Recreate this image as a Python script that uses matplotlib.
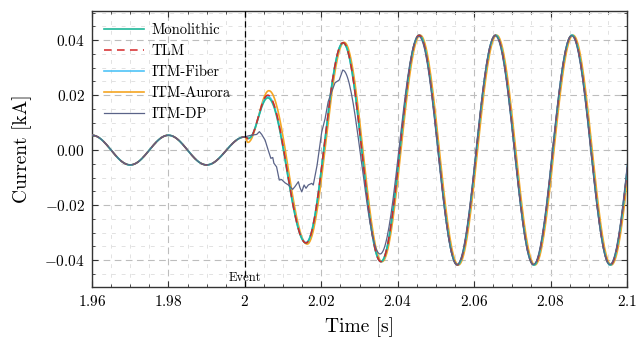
import numpy as np
import matplotlib
matplotlib.use("Agg")
import matplotlib.pyplot as plt
from matplotlib.ticker import MultipleLocator, FuncFormatter

plt.rcParams['font.family'] = 'cmr10'
plt.rcParams['mathtext.fontset'] = 'cm'
plt.rcParams['axes.formatter.use_mathtext'] = True

# extrema (time [s], current [kA])
pre_t = [1.96, 1.97, 1.98, 1.99, 2.0]
pre_v = [0.0054, -0.0054, 0.0054, -0.0054, 0.0048]

steady_t = [2.0356, 2.0456, 2.0556, 2.0656, 2.0756, 2.0856, 2.0956, 2.1056]
steady_v = [-0.0406, 0.0418, -0.0418, 0.0418, -0.0418, 0.0418, -0.0418, 0.0418]

mono_t = [2.0010, 2.0060, 2.0160, 2.0257]
mono_v = [0.0043, 0.0190, -0.0338, 0.0390]
tlm_t = [2.0010, 2.0060, 2.0160, 2.0257]
tlm_v = [0.0040, 0.0200, -0.0338, 0.0391]
fiber_t = [2.0010, 2.0060, 2.0160, 2.0257]
fiber_v = [0.0042, 0.0196, -0.0336, 0.0390]
aurora_t = [2.0008, 2.0063, 2.0163, 2.0260]
aurora_v = [0.0028, 0.0216, -0.0342, 0.0392]
aurora_shift = 0.0003

# ITM-DP: noisy part read point by point
dp_raw_t = [2.0013, 2.0031, 2.0038, 2.0044, 2.0053, 2.0061, 2.0068, 2.0073, 2.0076,
            2.0083, 2.0090, 2.0096, 2.0105, 2.0114, 2.0125, 2.0131, 2.0140, 2.0144,
            2.0149, 2.0155, 2.0160, 2.0166, 2.0175, 2.0179, 2.0184, 2.0189, 2.0195,
            2.0201, 2.0210, 2.0218, 2.0227, 2.0236, 2.0247]
dp_raw_v = [0.0053, 0.0057, 0.0067, 0.0057, 0.0036, 0.0000, -0.0030, -0.0027, -0.0048,
            -0.0061, -0.0109, -0.0107, -0.0119, -0.0127, -0.0143, -0.0133, -0.0115, -0.0136,
            -0.0152, -0.0127, -0.0139, -0.0127, -0.0121, -0.0127, -0.0091, -0.0055, 0.0005,
            0.0065, 0.0115, 0.0176, 0.0212, 0.0245, 0.0255]
dp_t = [2.0256, 2.0354, 2.0455, 2.0555, 2.0655, 2.0755, 2.0855, 2.0955, 2.1055]
dp_v = [0.0291, -0.0378, 0.0414, -0.0416, 0.0416, -0.0416, 0.0416, -0.0416, 0.0416]


def smooth(ts, vs, n=40):
    # half-cosine between neighbouring extrema
    out_t, out_v = [ts[0]], [vs[0]]
    for i in range(len(ts) - 1):
        s = np.linspace(0, 1, n)[1:]
        out_t.extend(ts[i] + (ts[i + 1] - ts[i]) * s)
        out_v.extend(vs[i] + (vs[i + 1] - vs[i]) * (1 - np.cos(np.pi * s)) / 2)
    return np.array(out_t), np.array(out_v)


def series(mid_t, mid_v, shift=0.0):
    ts = pre_t + mid_t + [t + shift for t in steady_t]
    vs = pre_v + mid_v + steady_v
    return smooth(ts, vs)


fig = plt.figure(figsize=(6.38, 3.41), dpi=100)
ax = fig.add_axes([0.1442, 0.1584, 0.8386, 0.8102])

t_ar, v_ar = series(aurora_t, aurora_v, aurora_shift)
t_fi, v_fi = series(fiber_t, fiber_v)
t_mo, v_mo = series(mono_t, mono_v)
t_tl, v_tl = series(tlm_t, tlm_v)
t_a, v_a = smooth(pre_t, pre_v)
t_b, v_b = smooth(dp_t, dp_v)
t_dp = np.concatenate([t_a, dp_raw_t, t_b])
v_dp = np.concatenate([v_a, dp_raw_v, v_b])

l_ar, = ax.plot(t_ar, v_ar, color='#f5a623', lw=1.2, label='ITM-Aurora', zorder=3)
l_fi, = ax.plot(t_fi, v_fi, color='#4fc3f7', lw=1.2, label='ITM-Fiber', zorder=4)
l_mo, = ax.plot(t_mo, v_mo, color='#1fb89a', lw=1.2, label='Monolithic', zorder=5)
l_tl, = ax.plot(t_tl, v_tl, color='#d62728', lw=1.1, ls=(0, (5, 3.5)), label='TLM', zorder=6)
l_dp, = ax.plot(t_dp, v_dp, color='#5a6388', lw=0.9, label='ITM-DP', zorder=7)

ax.axvline(2.0, color='black', lw=0.9, ls=(0, (5, 3)), zorder=8)
ax.text(2.0, -0.0466, 'Event', ha='center', va='center', fontsize=9)

ax.set_xlim(1.96, 2.1)
ax.set_ylim(-0.0498, 0.0507)
ax.xaxis.set_major_locator(MultipleLocator(0.02))
ax.xaxis.set_minor_locator(MultipleLocator(0.005))
ax.yaxis.set_major_locator(MultipleLocator(0.02))
ax.yaxis.set_minor_locator(MultipleLocator(0.005))
ax.xaxis.set_major_formatter(FuncFormatter(lambda x, p: '$%s$' % ('%.2f' % x).rstrip('0').rstrip('.')))
ax.yaxis.set_major_formatter(FuncFormatter(lambda y, p: '$%.2f$' % (0.0 if abs(y) < 1e-9 else y)))

ax.grid(which='major', color='#bdbdbd', lw=0.8, ls=(0, (6, 4)))
ax.grid(which='minor', color='#e2e2e2', lw=0.7, ls=(0, (4, 6)))
ax.set_axisbelow(True)
ax.tick_params(which='both', direction='in', top=True, right=True, labelsize=11, colors='#333333')
ax.tick_params(which='major', length=4, pad=5)
ax.tick_params(which='minor', length=2.5)
ax.tick_params(labelcolor='black')
for s in ax.spines.values():
    s.set_color('#333333')
    s.set_linewidth(1.0)

ax.set_xlabel('Time [s]', fontsize=14, labelpad=6)
ax.set_ylabel('Current [kA]', fontsize=14, labelpad=9)

ax.legend(handles=[l_mo, l_tl, l_fi, l_ar, l_dp], loc='upper left', frameon=False,
          fontsize=10.5, handlelength=2.75, handletextpad=0.5, labelspacing=0.5,
          borderaxespad=0.45)

fig.savefig('out.png', dpi=100)
